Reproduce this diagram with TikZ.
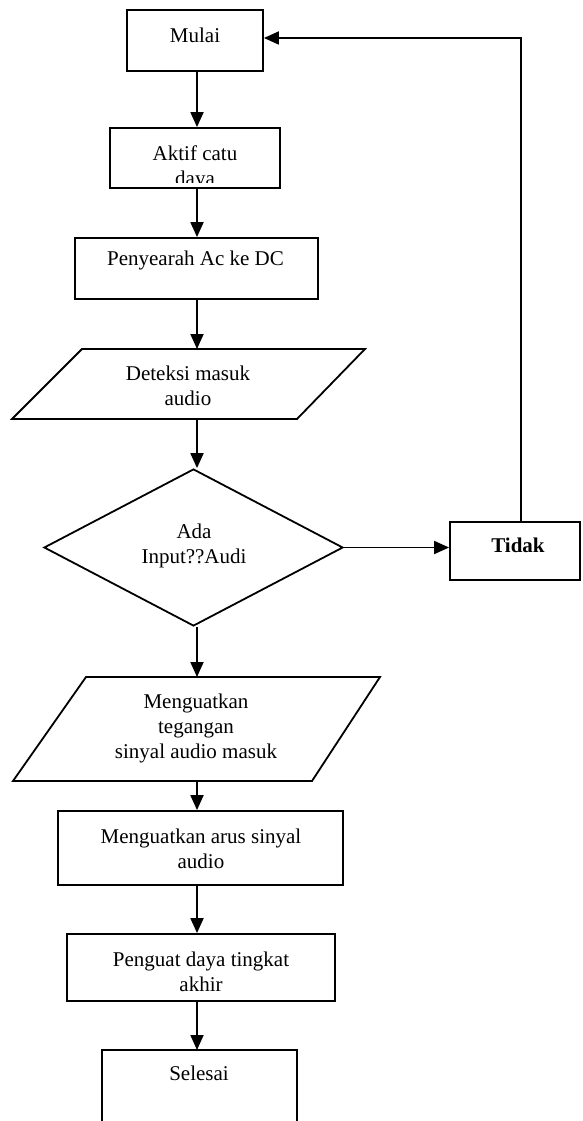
\documentclass[tikz,border=0pt]{standalone}
\usepackage{fontspec}
\setmainfont{Liberation Serif}
\usetikzlibrary{shapes.geometric,arrows.meta}
\tikzset{
  box/.style={draw, line width=1.8pt, inner sep=0pt},
  txt/.style={align=center, font=\fontsize{21}{25}\selectfont, inner sep=0pt},
  conn/.style={line width=1.8pt},
  arr/.style={conn, -{Triangle[length=15pt,width=13pt]}},
  shapeline/.style={line width=1.8pt, line join=miter},
}
\begin{document}
\begin{tikzpicture}[x=1pt,y=-1pt]
\useasboundingbox (0,0) rectangle (582,1121);
\coordinate (sp) at (197,0);
\coordinate (lp) at (521,38);

% Mulai
\node[box, minimum width=136pt, minimum height=61pt] (mulai) at (195,40.5) {};
\node[txt] (mulait) at (195,35) {Mulai};

% Aktif catu daya
\node[box, minimum width=170pt, minimum height=60pt] (aktif) at (195,158) {};
\begin{scope}
  \clip (111,129) rectangle (279,182.5);
  \node[txt] (aktift) at (195,168) {Aktif catu\\daya};
\end{scope}

% Penyearah
\node[box, minimum width=243pt, minimum height=61pt] (peny) at (196.5,268.5) {};
\node[txt] (penyt) at (195.5,260) {Penyearah Ac ke DC};

% Deteksi parallelogram
\coordinate (d1) at (82,349);
\coordinate (d2) at (365,349);
\coordinate (d3) at (297,419);
\coordinate (d4) at (12,419);
\draw[shapeline] (d1) -- (d2) -- (d3) -- (d4) -- cycle;
\node[txt] (det) at (188,386) {Deteksi masuk\\audio};

% Decision
\node[diamond, draw, line width=1.8pt, inner sep=0pt, aspect=1.9,
      minimum width=299pt, minimum height=157pt] (dec) at (193.5,547.5) {};
\node[txt] (dect) at (194,546) {Ada\\Input??Audi};

% Tidak
\node[box, minimum width=130pt, minimum height=58pt] (tidak) at (515,551) {};
\node[txt, font=\fontsize{21}{25}\selectfont\bfseries] (tidakt) at (518,545) {Tidak};

% Menguatkan tegangan parallelogram
\coordinate (t1) at (86,677);
\coordinate (t2) at (380,677);
\coordinate (t3) at (312,781);
\coordinate (t4) at (13,781);
\draw[shapeline] (t1) -- (t2) -- (t3) -- (t4) -- cycle;
\node[txt] (teg) at (196,728) {Menguatkan\\tegangan\\sinyal audio masuk};

% Menguatkan arus
\node[box, minimum width=285pt, minimum height=74pt] (arus) at (200.5,848) {};
\node[txt] (arust) at (201,848.5) {Menguatkan arus sinyal\\audio};

% Penguat daya
\node[box, minimum width=268pt, minimum height=67pt] (peng) at (201,967.5) {};
\node[txt] (pengt) at (201,972) {Penguat daya tingkat\\akhir};

% Selesai (open at bottom)
\coordinate (s1) at (102,1121);
\coordinate (s2) at (102,1050);
\coordinate (s3) at (297,1050);
\coordinate (s4) at (297,1121);
\draw[shapeline] (s1) -- (s2) -- (s3) -- (s4);
\node[txt] (selt) at (199,1073) {Selesai};

% Connectors
\draw[arr] (sp |- mulai.south) -- (sp |- aktif.north);
\draw[arr] (sp |- aktif.south) -- (sp |- peny.north);
\draw[arr] (sp |- peny.south) -- (sp |- d1);
\draw[arr] (sp |- d4) -- (sp |- dec.north);
\draw[arr] (dec.east) -- (dec.east -| tidak.west);
\draw[arr] (lp |- tidak.north) -- (lp) -- (lp -| mulai.east);
\draw[arr] (dec.south -| sp) -- (sp |- t1);
\draw[arr] (sp |- t4) -- (sp |- arus.north);
\draw[arr] (sp |- arus.south) -- (sp |- peng.north);
\draw[arr] (sp |- peng.south) -- (sp |- s2);
\end{tikzpicture}
\end{document}
